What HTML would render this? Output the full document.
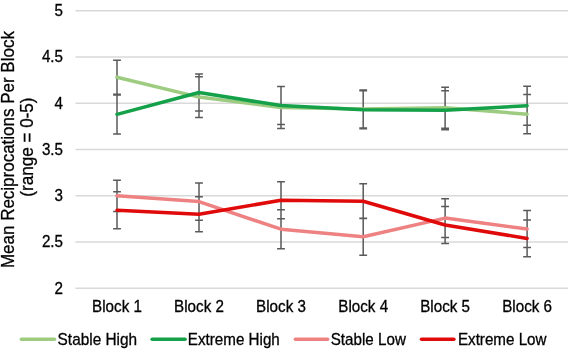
<!DOCTYPE html><html><head><meta charset="utf-8"><style>html,body{margin:0;padding:0;background:#fff;width:570px;height:350px;overflow:hidden}svg{display:block;will-change:transform}text{font-family:"Liberation Sans",sans-serif;fill:#000;stroke:#000;stroke-width:0.3px}</style></head><body>
<svg width="570" height="350" viewBox="0 0 570 350">
<line x1="75.4" y1="10.80" x2="568" y2="10.80" stroke="#d9d9d9" stroke-width="1.5"/>
<line x1="75.4" y1="57.05" x2="568" y2="57.05" stroke="#d9d9d9" stroke-width="1.5"/>
<line x1="75.4" y1="103.30" x2="568" y2="103.30" stroke="#d9d9d9" stroke-width="1.5"/>
<line x1="75.4" y1="149.55" x2="568" y2="149.55" stroke="#d9d9d9" stroke-width="1.5"/>
<line x1="75.4" y1="195.80" x2="568" y2="195.80" stroke="#d9d9d9" stroke-width="1.5"/>
<line x1="75.4" y1="242.05" x2="568" y2="242.05" stroke="#d9d9d9" stroke-width="1.5"/>
<line x1="75.4" y1="288.30" x2="568" y2="288.30" stroke="#d9d9d9" stroke-width="1.5"/>
<text transform="translate(63,16.20) scale(0.95,1)" font-size="16" text-anchor="end">5</text>
<text transform="translate(63,62.45) scale(0.95,1)" font-size="16" text-anchor="end">4.5</text>
<text transform="translate(63,108.70) scale(0.95,1)" font-size="16" text-anchor="end">4</text>
<text transform="translate(63,154.95) scale(0.95,1)" font-size="16" text-anchor="end">3.5</text>
<text transform="translate(63,201.20) scale(0.95,1)" font-size="16" text-anchor="end">3</text>
<text transform="translate(63,247.45) scale(0.95,1)" font-size="16" text-anchor="end">2.5</text>
<text transform="translate(63,293.70) scale(0.95,1)" font-size="16" text-anchor="end">2</text>
<text transform="translate(117.0,311.5) scale(0.95,1)" font-size="16" text-anchor="middle">Block 1</text>
<text transform="translate(199.0,311.5) scale(0.95,1)" font-size="16" text-anchor="middle">Block 2</text>
<text transform="translate(281.0,311.5) scale(0.95,1)" font-size="16" text-anchor="middle">Block 3</text>
<text transform="translate(363.2,311.5) scale(0.95,1)" font-size="16" text-anchor="middle">Block 4</text>
<text transform="translate(445.1,311.5) scale(0.95,1)" font-size="16" text-anchor="middle">Block 5</text>
<text transform="translate(527.1,311.5) scale(0.95,1)" font-size="16" text-anchor="middle">Block 6</text>
<text transform="translate(13.5,149.6) rotate(-90) scale(0.95,1)" font-size="17.9" text-anchor="middle">Mean Reciprocations Per Block</text>
<text transform="translate(32.8,147.1) rotate(-90) scale(0.95,1)" font-size="18" text-anchor="middle">(range = 0-5)</text>
<path d="M117.0 60.3V94.3M113.1 60.3H120.9M113.1 94.3H120.9M199.0 76.8V117.4M195.1 76.8H202.9M195.1 117.4H202.9M281.0 86.5V128.5M277.1 86.5H284.9M277.1 128.5H284.9M363.2 90.0V128.0M359.3 90.0H367.1M359.3 128.0H367.1M445.1 87.3V128.3M441.2 87.3H449.0M441.2 128.3H449.0M527.1 94.6V133.8M523.2 94.6H531.0M523.2 133.8H531.0M117.0 94.9V133.9M113.1 94.9H120.9M113.1 133.9H120.9M199.0 73.9V111.1M195.1 73.9H202.9M195.1 111.1H202.9M281.0 86.6V124.6M277.1 86.6H284.9M277.1 124.6H284.9M363.2 90.7V128.7M359.3 90.7H367.1M359.3 128.7H367.1M445.1 90.8V129.8M441.2 90.8H449.0M441.2 129.8H449.0M527.1 86.2V125.2M523.2 86.2H531.0M523.2 125.2H531.0M117.0 180.2V211.4M113.1 180.2H120.9M113.1 211.4H120.9M199.0 183.0V220.2M195.1 183.0H202.9M195.1 220.2H202.9M281.0 209.7V248.7M277.1 209.7H284.9M277.1 248.7H284.9M363.2 218.2V255.2M359.3 218.2H367.1M359.3 255.2H367.1M445.1 198.7V237.5M441.2 198.7H449.0M441.2 237.5H449.0M527.1 210.4V247.6M523.2 210.4H531.0M523.2 247.6H531.0M117.0 191.8V228.8M113.1 191.8H120.9M113.1 228.8H120.9M199.0 196.7V231.7M195.1 196.7H202.9M195.1 231.7H202.9M281.0 181.8V218.8M277.1 181.8H284.9M277.1 218.8H284.9M363.2 183.8V218.6M359.3 183.8H367.1M359.3 218.6H367.1M445.1 206.6V243.4M441.2 206.6H449.0M441.2 243.4H449.0M527.1 220.1V256.8M523.2 220.1H531.0M523.2 256.8H531.0" stroke="#5a5a5a" stroke-width="1.5" fill="none"/>
<polyline points="117.0,77.3 199.0,97.1 281.0,107.5 363.2,109.0 445.1,107.8 527.1,114.2" fill="none" stroke="#9dcb80" stroke-width="3.5" stroke-linejoin="round" stroke-linecap="round"/>
<polyline points="117.0,114.4 199.0,92.5 281.0,105.6 363.2,109.7 445.1,110.3 527.1,105.7" fill="none" stroke="#15a04a" stroke-width="3.5" stroke-linejoin="round" stroke-linecap="round"/>
<polyline points="117.0,195.8 199.0,201.6 281.0,229.2 363.2,236.7 445.1,218.1 527.1,229.0" fill="none" stroke="#ee8282" stroke-width="3.5" stroke-linejoin="round" stroke-linecap="round"/>
<polyline points="117.0,210.3 199.0,214.2 281.0,200.3 363.2,201.2 445.1,225.0 527.1,238.4" fill="none" stroke="#e00a0a" stroke-width="3.5" stroke-linejoin="round" stroke-linecap="round"/>
<line x1="21.4" y1="339.3" x2="54.5" y2="339.3" stroke="#9dcb80" stroke-width="3.5" stroke-linecap="round"/>
<text transform="translate(57.6,344.6) scale(0.962,1)" font-size="16">Stable High</text>
<line x1="152.1" y1="339.3" x2="185.1" y2="339.3" stroke="#15a04a" stroke-width="3.5" stroke-linecap="round"/>
<text transform="translate(187.8,344.6) scale(0.95,1)" font-size="16">Extreme High</text>
<line x1="295.4" y1="339.3" x2="327.6" y2="339.3" stroke="#ee8282" stroke-width="3.5" stroke-linecap="round"/>
<text transform="translate(330.7,344.6) scale(0.95,1)" font-size="16">Stable Low</text>
<line x1="421.5" y1="339.3" x2="453.9" y2="339.3" stroke="#e00a0a" stroke-width="3.5" stroke-linecap="round"/>
<text transform="translate(457.9,344.6) scale(0.95,1)" font-size="16">Extreme Low</text>
</svg></body></html>
